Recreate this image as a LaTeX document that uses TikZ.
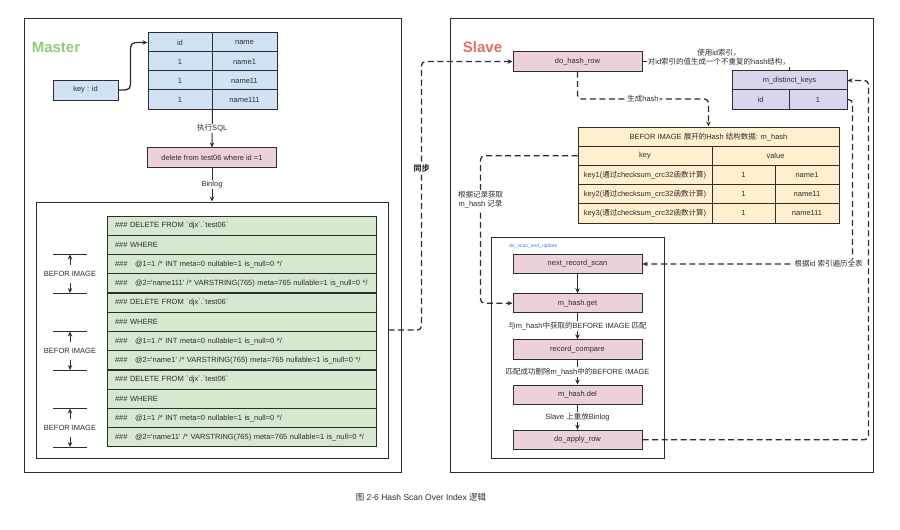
\documentclass[tikz,border=0pt]{standalone}
\usepackage{fontspec}
\setmainfont{Liberation Sans}[Ligatures=TeXOff]
\newfontfamily\cjk{Noto Sans CJK SC}
\newcommand\zh[1]{{\cjk #1}}
\newcommand\hashes{\#\#\#}
\newcommand\delfrom{\hashes{} DELETE FROM `djx`.`test06`}
\newcommand\intcol{\hashes\ \ \ @1=1 /* INT meta=0 nullable=1 is\_null=0 */}
\newcommand\strcol[1]{\hashes\ \ \ @2='#1' /* VARSTRING(765) meta=765 nullable=1 is\_null=0 */}
\RequirePackage{xcolor}
\definecolor{lineg}{RGB}{45,45,45}
\definecolor{cellblue}{RGB}{210,226,245}
\definecolor{cellpink}{RGB}{236,208,220}
\definecolor{cellgreen}{RGB}{214,232,208}
\definecolor{cellyellow}{RGB}{255,240,205}
\definecolor{celllilac}{RGB}{218,212,236}
\definecolor{mastergreen}{RGB}{145,205,120}
\definecolor{slavered}{RGB}{234,107,102}
\definecolor{scanblue}{RGB}{60,130,230}
\usetikzlibrary{positioning}
\usetikzlibrary{arrows.meta}
\tikzset{
  txt/.style={font=\fontsize{7.5}{9}\selectfont, text=lineg},
  cell/.style={txt, draw=lineg, line width=1pt, minimum height=19.2pt, inner sep=0pt},
  frame/.style={draw=lineg, line width=1pt, inner sep=0pt},
  flow/.style={-{Stealth[length=5pt,width=4.5pt]}, draw=lineg, line width=1pt},
  dashlink/.style={flow, line width=1.3pt, dash pattern=on 6pt off 3.5pt, rounded corners=4pt},
  onlabel/.style={txt, fill=white, inner sep=1pt},
  title/.style={font=\fontsize{15}{18}\selectfont\bfseries},
}

\begin{document}
\begin{tikzpicture}[x=1pt, y=-1pt]
  \useasboundingbox (0,0) rectangle (900,530);

  % master side
  \node [frame, minimum width=377pt, minimum height=454pt] (master) at (212.5,245) {};
  \node [title, text=mastergreen] (mlabel) at (56,47) {Master};

  \foreach \a/\b [count=\i] in {id/name, 1/name1, 1/name11, 1/name111} {
    \node [cell, fill=cellblue, minimum width=64pt] (ta\i) at (180,{23.5+19*\i}) {\a};
    \node [cell, fill=cellblue, minimum width=65pt] (tb\i) at (244.5,{23.5+19*\i}) {\b};
  }
  \node [cell, fill=cellblue, minimum width=65pt, minimum height=20pt] (kid) at (85.5,90) {key : id};
  \draw [flow, line width=1.3pt, rounded corners=5pt] (kid.east) -- ++(12,0) |- (ta1.west);

  \node [cell, fill=cellpink, minimum width=129pt] (del) at (212,157.5) {delete from test06 where id =1};
  \draw [flow] (ta4.south east) -- (del.north) node [onlabel, midway] {\zh{执行}SQL};

  \node [frame, minimum width=352pt, minimum height=256pt] (binlog) at (212,330) {};
  \draw [flow] (del.south) -- (binlog.north) node [onlabel, midway] {Binlog};

  % binlog rows
  \foreach \r [count=\i] in {\delfrom, \hashes{} WHERE, \intcol, \strcol{name111},
                             \delfrom, \hashes{} WHERE, \intcol, \strcol{name1},
                             \delfrom, \hashes{} WHERE, \intcol, \strcol{name11}}
    \node [cell, fill=cellgreen, minimum width=269pt, text width=253pt, align=left] (row\i) at (241.5,{216+19.25*(\i-0.5)}) {\r};

  % before image marks
  \foreach \k [count=\g] in {3,7,11} {
    \coordinate (btop\g) at (70,{216+19.25*(\k-1)});
    \coordinate (bbot\g) at (70,{216+19.25*(\k+1)});
    \node [txt] (bimg\g) at (70,{216+19.25*\k}) {BEFOR IMAGE};
    \draw [draw=lineg, line width=0.9pt] ([xshift=-17pt]btop\g) -- ([xshift=17pt]btop\g)
      ([xshift=-17pt]bbot\g) -- ([xshift=17pt]bbot\g);
    \draw [flow] ([yshift=3pt]bimg\g.north) -- (btop\g);
    \draw [flow] ([yshift=-3pt]bimg\g.south) -- (bbot\g);
  }

  % slave side
  \node [frame, minimum width=423pt, minimum height=454pt] (slave) at (661.5,245) {};
  \node [title, text=slavered] (slabel) at (482.5,47) {Slave};

  \node [cell, fill=cellpink, minimum width=129pt] (dohash) at (577.5,61.5) {do\_hash\_row};
  \node [cell, fill=celllilac, minimum width=115pt] (mkeys) at (789.5,80.5) {m\_distinct\_keys};
  \node [cell, fill=celllilac, minimum width=57pt] (mid) at (760.5,99.5) {id};
  \node [cell, fill=celllilac, minimum width=58pt] (mone) at (818,99.5) {1};

  % m_hash table
  \node [cell, fill=cellyellow, minimum width=261pt] (htitle) at (708.5,136.6) {BEFOR IMAGE \zh{展开的}Hash \zh{结构数据}: m\_hash};
  \node [cell, fill=cellyellow, minimum width=134pt] (hkey) at (645,155.8) {key};
  \node [cell, fill=cellyellow, minimum width=127pt] (hval) at (775.5,155.8) {value};
  \foreach \v [count=\i] in {name1, name11, name111} {
    \node [cell, fill=cellyellow, minimum width=134pt] (hk\i) at (645,{155.8+19.2*\i}) {key\i(\zh{通过}checksum\_crc32\zh{函数计算})};
    \node [cell, fill=cellyellow, minimum width=63pt] (hi\i) at (743.5,{155.8+19.2*\i}) {1};
    \node [cell, fill=cellyellow, minimum width=64pt] (hn\i) at (807,{155.8+19.2*\i}) {\v};
  }

  % scan loop
  \node [frame, minimum width=173pt, minimum height=221pt] (scan) at (577.5,347.5) {};
  \node [anchor=west, inner sep=0pt, font=\fontsize{5}{6}\selectfont, text=scanblue] (scanlbl) at (509,246) {do\_scan\_and\_update};
  \node [cell, fill=cellpink, minimum width=129pt] (nrs) at (577.5,264) {next\_record\_scan};
  \node [cell, fill=cellpink, minimum width=129pt, below=19pt of nrs] (mget) {m\_hash.get};
  \node [cell, fill=cellpink, minimum width=129pt, below=26pt of mget] (rcmp) {record\_compare};
  \node [cell, fill=cellpink, minimum width=129pt, below=25pt of rcmp] (mdel) {m\_hash.del};
  \node [cell, fill=cellpink, minimum width=129pt, below=25pt of mdel] (apply) {do\_apply\_row};

  \draw [flow] (nrs) -- (mget);
  \draw [flow] (mget) -- (rcmp) node [onlabel, midway] {\zh{与}m\_hash\zh{中获取的}BEFORE IMAGE \zh{匹配}};
  \draw [flow] (rcmp) -- (mdel) node [onlabel, midway] {\zh{匹配成功删除}m\_hash\zh{中的}BEFORE IMAGE};
  \draw [flow] (mdel) -- (apply) node [onlabel, midway] {Slave \zh{上重放}Binlog};

  % links across
  \draw [dashlink] (binlog.east) -- ++(33,0) |- (dohash.west)
    node [onlabel, pos=0.3, font=\fontsize{8}{9}\selectfont\bfseries] {\zh{同步}};
  \draw [draw=lineg, line width=1pt] (dohash.east) -| (mkeys.north)
    node [onlabel, pos=0.26, yshift=4pt, align=center] {\zh{使用}id\zh{索引，}\\\zh{对}id\zh{索引的值生成一个不重复的}hash\zh{结构，}};
  \coordinate (hbend) at (708.5,99);
  \draw [dashlink] (dohash.south) |- (hbend) node [onlabel, pos=0.75] {\zh{生成}hash} -- (htitle.north);
  \draw [dashlink] (hkey.west) -- ++(-97,0) |- (mget.west)
    node [onlabel, pos=0.15, align=center] {\zh{根据记录获取}\\m\_hash \zh{记录}};
  \draw [dashlink] (mone.east) -- ++(5,0) |- (nrs.east)
    node [onlabel, pos=0.557] {\zh{根据}id \zh{索引遍历全表}};
  \draw [dashlink] (apply.east) -- ++(226,0) |- (mkeys.east);

  \node [font=\fontsize{8.5}{10}\selectfont, text=lineg] (caption) at (421,497) {\zh{图} 2-6 Hash Scan Over Index \zh{逻辑}};
\end{tikzpicture}
\end{document}
